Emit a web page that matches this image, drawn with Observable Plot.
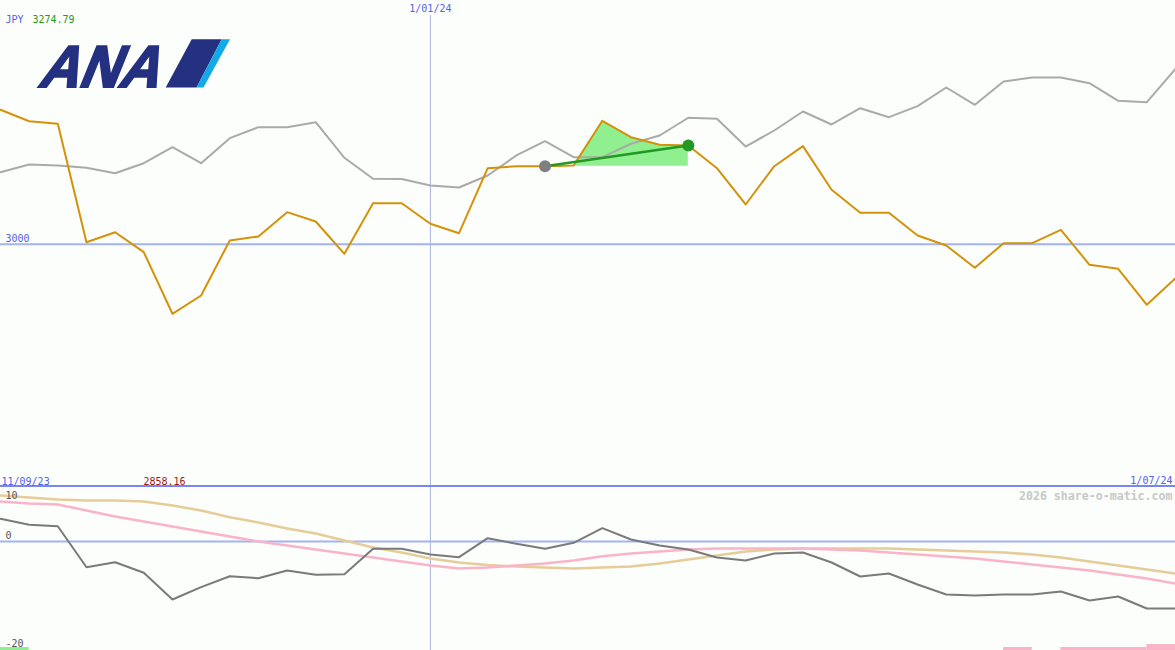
<!DOCTYPE html>
<html>
<head>
<meta charset="utf-8">
<script src="https://cdn.jsdelivr.net/npm/d3@7"></script>
<script src="https://cdn.jsdelivr.net/npm/@observablehq/plot@0.6"></script>
<style>
  html, body { margin: 0; padding: 0; background: #fbfefb; overflow: hidden; }
  #wrap { position: relative; width: 1175px; height: 650px; }
  #logo { position: absolute; left: 0; top: 0; pointer-events: none; }
</style>
</head>
<body>
<div id="wrap"></div>
<script>
// ---------- data ----------
const dates = d3.utcMonday.range(new Date(Date.UTC(2023, 8, 18)), new Date(Date.UTC(2024, 6, 2)));

const price = [3274.79, 3251.5, 3246.2, 3004.4, 3024.8, 2984.0, 2858.16, 2895.5, 3007.9, 3016.0,
  3065.7, 3046.7, 2980.7, 3084.0, 3084.0, 3042.0, 3022.8, 3155.5, 3159.6, 3159.6,
  3161.0, 3252.3, 3218.8, 3203.3, 3201.9, 3155.5, 3081.4, 3159.6, 3200.5, 3111.4,
  3064.4, 3064.4, 3018.1, 2997.6, 2952.1, 3002.3, 3002.3, 3029.7, 2958.2, 2950.1,
  2876.5, 2930.9];

const peer = [3147.4, 3163.1, 3161.0, 3156.3, 3145.3, 3165.7, 3198.4, 3165.7, 3216.8, 3239.3,
  3239.3, 3249.5, 3176.8, 3133.9, 3133.5, 3120.2, 3116.1, 3140.6, 3181.5, 3210.7,
  3178.0, 3178.0, 3205.4, 3222.3, 3258.5, 3256.4, 3199.8, 3232.5, 3271.3, 3244.8,
  3278.1, 3259.7, 3282.2, 3320.3, 3285.0, 3332.6, 3340.8, 3340.8, 3329.1, 3293.2,
  3290.3, 3358.5];

const osc = [4.26, 3.14, 2.87, -4.83, -3.89, -5.88, -10.89, -8.58, -6.52, -6.89,
  -5.45, -6.25, -6.14, -1.37, -1.37, -2.44, -2.95, 0.62, -0.43, -1.37,
  -0.24, 2.50, 0.38, -0.75, -1.50, -3.00, -3.57, -2.25, -2.07, -3.94,
  -6.57, -6.01, -8.08, -9.95, -10.14, -9.95, -9.95, -9.39, -11.08, -10.33,
  -12.58, -12.58];

const avgFast = [7.51, 7.14, 6.95, 5.82, 4.69, 3.76, 2.82, 1.88, 0.94, 0.00,
  -0.75, -1.50, -2.25, -3.00, -3.76, -4.51, -5.07, -4.88, -4.51, -4.13,
  -3.57, -2.76, -2.25, -1.88, -1.50, -1.31, -1.31, -1.31, -1.31, -1.50,
  -1.69, -2.07, -2.44, -2.82, -3.19, -3.76, -4.32, -4.88, -5.45, -6.20,
  -6.95, -7.89];

const avgSlow = [8.64, 8.26, 7.89, 7.70, 7.70, 7.51, 6.76, 5.82, 4.56, 3.57,
  2.44, 1.50, 0.19, -1.13, -2.07, -3.19, -3.94, -4.41, -4.69, -4.88,
  -5.07, -4.88, -4.69, -4.13, -3.38, -2.63, -1.88, -1.50, -1.31, -1.31,
  -1.31, -1.31, -1.50, -1.69, -1.88, -2.07, -2.44, -3.00, -3.76, -4.51,
  -5.26, -6.01];

// signal bars at the bottom of the lower panel (index ranges, size in panel units)
const barFrom = [0, 35, 37, 40];
const barTo = [1, 36, 40, 41];
const barSize = [0.56, 0.56, 0.56, 1.13];
const barColor = ["#90ee90", "#f9b4c8", "#f9b4c8", "#f9b4c8"];

// trend annotation (indices into the series)
const trendFrom = 19, trendTo = 24;

// labels
const currency = "JPY";
const highLabel = "3274.79";
const lowLabel = "2858.16";
const startLabel = "11/09/23";
const midLabel = "1/01/24";
const endLabel = "1/07/24";
const priceTick = 3000;
const oscTicks = [10, 0, -20];
const credit = "2026 share-o-matic.com";

// ---------- build ----------
const midDate = new Date(Date.UTC(2024, 0, 1));
const rows = dates.map((d, i) => ({date: d, price: price[i], peer: peer[i], osc: osc[i], fast: avgFast[i], slow: avgSlow[i]}));
const trendBase = price[trendFrom];
const trendRows = rows.slice(trendFrom, trendTo + 1);
const trendEnds = [rows[trendFrom], rows[trendTo]];
const oscMin = -20.47, oscMax = 10.14;
const bars = barFrom.map((f, i) => ({x1: dates[f], x2: dates[barTo[i]], y1: oscMin, y2: oscMin + barSize[i], c: barColor[i]}));

const mono = "DejaVu Sans Mono, monospace";
const blue = "#5560ee";
const xScale = {type: "utc", domain: [dates[0], dates[dates.length - 1]], axis: null};

const topChart = Plot.plot({
  width: 1175, height: 487, margin: 0,
  style: {background: "transparent", display: "block"},
  x: xScale,
  y: {domain: [2503.4, 3498.0], axis: null},
  marks: [
    Plot.ruleY([priceTick], {stroke: "#a3b3f3", strokeWidth: 2}),
    Plot.ruleX([midDate], {stroke: "#aab3e0", strokeWidth: 1, insetTop: 15}),
    Plot.frame({anchor: "bottom", stroke: "#7987ea", strokeWidth: 5}),
    Plot.areaY(trendRows, {x: "date", y1: trendBase, y2: "price", fill: "#90f090", curve: "linear"}),
    Plot.line(rows, {x: "date", y: "peer", stroke: "#aaaaaa", strokeWidth: 2}),
    Plot.line(rows, {x: "date", y: "price", stroke: "#d4920a", strokeWidth: 2}),
    Plot.line(trendEnds, {x: "date", y: "price", stroke: "#229922", strokeWidth: 2.5}),
    Plot.dot([rows[trendFrom]], {x: "date", y: "price", r: 6, fill: "#808080"}),
    Plot.dot([rows[trendTo]], {x: "date", y: "price", r: 6, fill: "#229922"}),
    Plot.text([currency], {frameAnchor: "top-left", dx: 5, dy: 15, text: d => d, fill: blue, fontFamily: mono, fontSize: 10, textAnchor: "start"}),
    Plot.text([highLabel], {frameAnchor: "top-left", dx: 32, dy: 15, text: d => d, fill: "#229922", fontFamily: mono, fontSize: 10, textAnchor: "start"}),
    Plot.text([midLabel], {x: () => midDate, frameAnchor: "top", dy: 4, text: d => d, fill: blue, fontFamily: mono, fontSize: 10}),
    Plot.text([priceTick], {y: d => d, frameAnchor: "left", dx: 5, dy: -6, text: d => String(d), fill: blue, fontFamily: mono, fontSize: 10, textAnchor: "start"}),
    Plot.text([startLabel], {frameAnchor: "bottom-left", dx: 1, dy: -3, text: d => d, fill: blue, fontFamily: mono, fontSize: 10, textAnchor: "start"}),
    Plot.text([lowLabel], {frameAnchor: "bottom-left", dx: 143, dy: -3, text: d => d, fill: "#a31515", fontFamily: mono, fontSize: 10, textAnchor: "start"}),
    Plot.text([endLabel], {frameAnchor: "bottom-right", dx: -3, dy: -4, text: d => d, fill: blue, fontFamily: mono, fontSize: 10, textAnchor: "end"})
  ]
});

const bottomChart = Plot.plot({
  width: 1175, height: 163, margin: 0,
  style: {background: "transparent", display: "block"},
  x: xScale,
  y: {domain: [oscMin, oscMax], axis: null},
  marks: [
    Plot.ruleY([0], {stroke: "#a3b3f3", strokeWidth: 2}),
    Plot.ruleX([midDate], {stroke: "#aab3e0", strokeWidth: 1}),
    Plot.rect(bars, {x1: "x1", x2: "x2", y1: "y1", y2: "y2", fill: "c"}),
    Plot.line(rows, {x: "date", y: "slow", stroke: "#e6cc99", strokeWidth: 2.5}),
    Plot.line(rows, {x: "date", y: "fast", stroke: "#f9b4c8", strokeWidth: 2.5}),
    Plot.line(rows, {x: "date", y: "osc", stroke: "#7a7a7a", strokeWidth: 2}),
    Plot.text([oscTicks[0]], {y: d => d, frameAnchor: "left", dx: 5, dy: 8, text: d => String(d), fill: "#555555", fontFamily: mono, fontSize: 10, textAnchor: "start"}),
    Plot.text([oscTicks[1]], {y: d => d, frameAnchor: "left", dx: 5, dy: -6, text: d => String(d), fill: "#555555", fontFamily: mono, fontSize: 10, textAnchor: "start"}),
    Plot.text([oscTicks[2]], {y: d => d, frameAnchor: "left", dx: 5, dy: -4, text: d => String(d), fill: "#555555", fontFamily: mono, fontSize: 10, textAnchor: "start"}),
    Plot.text([credit], {frameAnchor: "top-right", dx: -3, dy: 4, text: d => d, fill: "#c8c8c8", fontFamily: mono, fontSize: 11.6, fontWeight: "bold", textAnchor: "end"})
  ]
});

const wrap = document.getElementById("wrap");
wrap.appendChild(topChart);
wrap.appendChild(bottomChart);

// ANA logo
const ns = "http://www.w3.org/2000/svg";
const logo = document.createElementNS(ns, "svg");
logo.setAttribute("id", "logo");
logo.setAttribute("width", "240");
logo.setAttribute("height", "100");
logo.innerHTML = `
  <g transform="translate(37,86.5) skewX(-22)">
    <text x="0" y="0" font-family="Liberation Sans, Arial, sans-serif" font-weight="bold" font-size="59" fill="#243080" stroke="#243080" stroke-width="2.2" stroke-linejoin="miter" textLength="120" lengthAdjust="spacingAndGlyphs">ANA</text>
  </g>
  <polygon points="191.7,39.3 221.7,39.3 196.5,87.5 165.7,87.5" fill="#243080"/>
  <polygon points="221.7,39.3 230,39.3 203.5,87.5 196.5,87.5" fill="#12a9e8"/>
`;
wrap.appendChild(logo);
</script>
</body>
</html>
